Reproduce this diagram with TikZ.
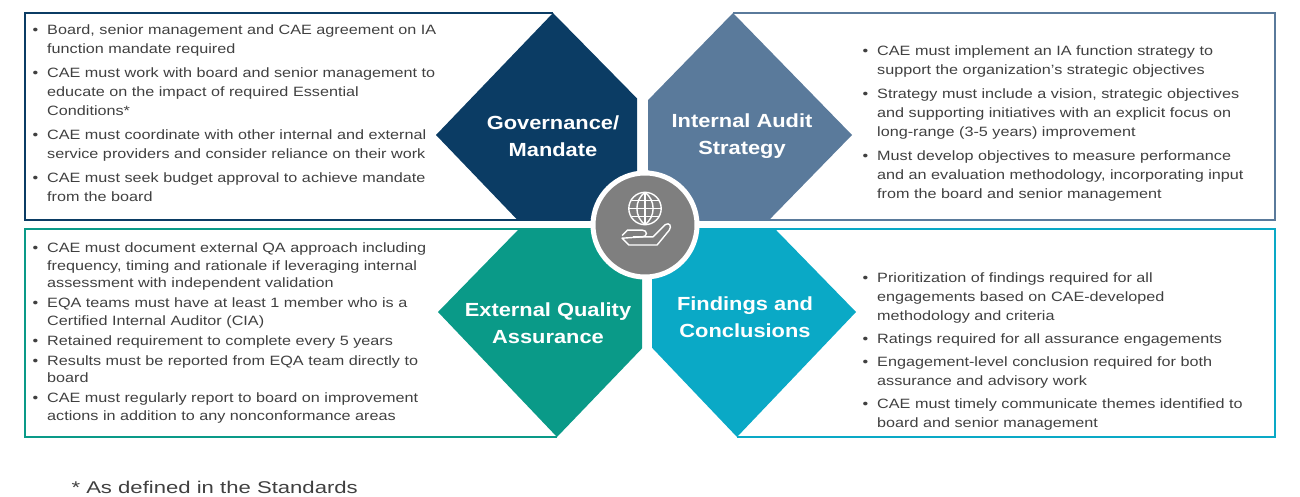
\documentclass[tikz,border=0pt]{standalone}
\usepackage{fontspec}
\setmainfont{Liberation Sans}
\usepackage{enumitem}
\definecolor{navy}{HTML}{0B3C64}
\definecolor{steel}{HTML}{5A7A9B}
\definecolor{teal}{HTML}{0A9A88}
\definecolor{cyanb}{HTML}{0AA9C6}
\definecolor{txt}{HTML}{404040}
\definecolor{hub}{HTML}{7F7F7F}
\newcommand{\blist}[1]{\begin{itemize}[leftmargin=15pt,labelsep=9pt,itemsep=5pt,topsep=0pt,parsep=0pt,partopsep=0pt,label=\textbullet]#1\end{itemize}}
\tikzset{
  btext/.style={anchor=north west,text width=440pt,inner sep=0pt,font=\addfontfeatures{FakeStretch=1.2}\fontsize{13.5}{19}\selectfont,text=txt,align=left},
  ttl/.style={text=white,font=\addfontfeatures{FakeStretch=1.15}\bfseries\fontsize{19}{27}\selectfont,align=center},
  frame/.style={line width=1.5pt}
}
\begin{document}
\begin{tikzpicture}[x=1pt,y=-1pt]
\useasboundingbox (0,0) rectangle (1300,497);
% frames
\draw[frame,navy] (553,13) -- (25,13) -- (25,220) -- (637,220);
\draw[frame,steel] (733,13) -- (1275,13) -- (1275,220) -- (648,220);
\draw[frame,teal] (642,229) -- (25,229) -- (25,437) -- (557,437);
\draw[frame,cyanb] (652,229) -- (1275,229) -- (1275,437) -- (737,437);
% diamonds
\begin{scope}\clip (0,0) rectangle (637,220);
\fill[navy] (553,13) -- (673,135) -- (553,257) -- (436,135) -- cycle;\end{scope}
\begin{scope}\clip (648,0) rectangle (1300,220);
\fill[steel] (733,13) -- (852,135) -- (733,257) -- (614,135) -- cycle;\end{scope}
\begin{scope}\clip (0,229) rectangle (642,497);
\fill[teal] (557,190) -- (677,312) -- (557,437) -- (438,312) -- cycle;\end{scope}
\begin{scope}\clip (652,229) rectangle (1300,497);
\fill[cyanb] (737,190) -- (856,312) -- (737,437) -- (618,312) -- cycle;\end{scope}
% titles
\node[ttl] (tgov) at (553,136) {Governance/\\Mandate};
\node[ttl] (tias) at (742,136) {Internal Audit\\Strategy};
\node[ttl] (teqa) at (548,323) {External Quality\\Assurance};
\node[ttl] (tfc) at (745,317) {Findings and\\Conclusions};
% hub
\node[circle,fill=hub,draw=white,line width=5pt,minimum size=104pt] (hub) at (645,225) {};
\begin{scope}[white,line width=1.4pt,shift={(645,222)},scale=1.35]
\draw (0,-10) circle (12);
\draw (0,-22) -- (0,2);
\draw (-12,-10) -- (12,-10);
\draw (-10,-16) -- (10,-16); \draw (-10,-4) -- (10,-4);
\draw (0,-22) .. controls (-8,-16) and (-8,-4) .. (0,2);
\draw (0,-22) .. controls (8,-16) and (8,-4) .. (0,2);
\draw[line join=round] (-17,10) -- (-13,6) -- (-2,6) .. controls (2,6) and (2,11) .. (-2,11) -- (-9,11);
\draw[line join=round] (-2,11) -- (6,11) -- (15,2) .. controls (18,0) and (20,3) .. (18,6) -- (9,17) -- (-12,17) -- (-17,12) -- cycle;
\end{scope}
% texts
\node[btext] (l1) at (32,15) {\blist{
\item Board, senior management and CAE agreement on IA\\function mandate required
\item CAE must work with board and senior management to\\educate on the impact of required Essential\\Conditions*
\item CAE must coordinate with other internal and external\\service providers and consider reliance on their work
\item CAE must seek budget approval to achieve mandate\\from the board}};
\node[btext] (r1) at (862,36) {\blist{
\item CAE must implement an IA function strategy to\\support the organization’s strategic objectives
\item Strategy must include a vision, strategic objectives\\and supporting initiatives with an explicit focus on\\long-range (3-5 years) improvement
\item Must develop objectives to measure performance\\and an evaluation methodology, incorporating input\\from the board and senior management}};
\node[btext,font=\addfontfeatures{FakeStretch=1.2}\fontsize{13.5}{17.5}\selectfont] (l2) at (32,235) {\blist{\setlength{\itemsep}{2.5pt}
\item CAE must document external QA approach including\\frequency, timing and rationale if leveraging internal\\assessment with independent validation
\item EQA teams must have at least 1 member who is a\\Certified Internal Auditor (CIA)
\item Retained requirement to complete every 5 years
\item Results must be reported from EQA team directly to\\board
\item CAE must regularly report to board on improvement\\actions in addition to any nonconformance areas}};
\node[btext] (r2) at (862,263) {\blist{\setlength{\itemsep}{4pt}
\item Prioritization of findings required for all\\engagements based on CAE-developed\\methodology and criteria
\item Ratings required for all assurance engagements
\item Engagement-level conclusion required for both\\assurance and advisory work
\item CAE must timely communicate themes identified to\\board and senior management}};
\node[anchor=west,text=txt,font=\addfontfeatures{FakeStretch=1.3}\fontsize{17}{20}\selectfont] (fn) at (68,487) {* As defined in the Standards};
\end{tikzpicture}
\end{document}
